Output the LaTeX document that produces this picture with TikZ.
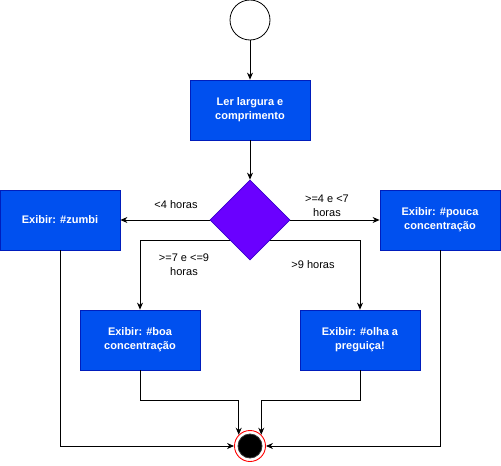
\documentclass[tikz,border=0pt]{standalone}
\usepackage{fontspec}
\setmainfont{Liberation Sans}
\usetikzlibrary{arrows.meta,shapes.geometric,calc,backgrounds}
\definecolor{boxfill}{HTML}{0050EF}
\definecolor{boxline}{HTML}{001DBC}
\definecolor{diafill}{HTML}{6A00FF}
\definecolor{dialine}{HTML}{3700CC}
\begin{document}
\begin{tikzpicture}[x=1pt,y=-1pt,
  box/.style={draw=boxline, fill=boxfill, text=white, font=\fontsize{11}{14}\selectfont\bfseries, minimum width=120pt, minimum height=60pt, align=center, inner sep=0pt, line width=0.8pt},
  lab/.style={font=\fontsize{11}{14}\selectfont, align=center, inner sep=1pt},
  conn/.style={draw, line width=0.8pt, -{Stealth[length=7pt,width=6pt]}}]
\useasboundingbox (0,0) rectangle (501,466);
\node[circle, draw, fill=white, minimum size=40pt, inner sep=0pt, line width=0.8pt] (start) at (250,20) {};
\node[box] (ler) at (250,110) {Ler largura e\\comprimento};
\node[diamond, draw=dialine, fill=diafill, minimum width=80pt, minimum height=80pt, inner sep=0pt, line width=0.8pt] (dia) at (250,220) {};
\node[box] (zumbi) at (60,220) {Exibir: \#zumbi};
\node[box] (pouca) at (440,220) {Exibir: \#pouca\\concentração};
\node[box] (boa) at (140,340) {Exibir: \#boa\\concentração};
\node[box] (olha) at (360,340) {Exibir: \#olha a\\preguiça!};
\node[circle, draw=red, fill=white, minimum size=31pt, inner sep=0pt, line width=0.9pt] (end) at (250,446) {};
\node[circle, draw=black!80, fill=black, minimum size=24pt, inner sep=0pt, line width=0.8pt] (endin) at (end.center) {};

\draw[conn] (start) -- (ler);
\draw[conn] (ler) -- (dia);
\draw[conn] (dia) -- (zumbi);
\draw[conn] (dia) -- (pouca);
\begin{scope}[on background layer]
\draw[conn] ($(dia.center)+(0,20)$) -| (boa);
\draw[conn] ($(dia.center)+(0,20)$) -| (olha);
\end{scope}
\draw[conn] (boa.south) -- ++(0,30) -| (end.135);
\draw[conn] (olha.south) -- ++(0,30) -| (end.45);
\draw[conn] (zumbi.south) |- (end.west);
\draw[conn] (pouca.south) |- (end.east);

\node[lab] (l1) at (176,205) {<4 horas};
\node[lab] (l2) at (327,206) {>=4 e <7\\horas};
\node[lab] (l3) at (184,265) {>=7 e <=9\\horas};
\node[lab] (l4) at (313,265) {>9 horas};
\end{tikzpicture}
\end{document}
